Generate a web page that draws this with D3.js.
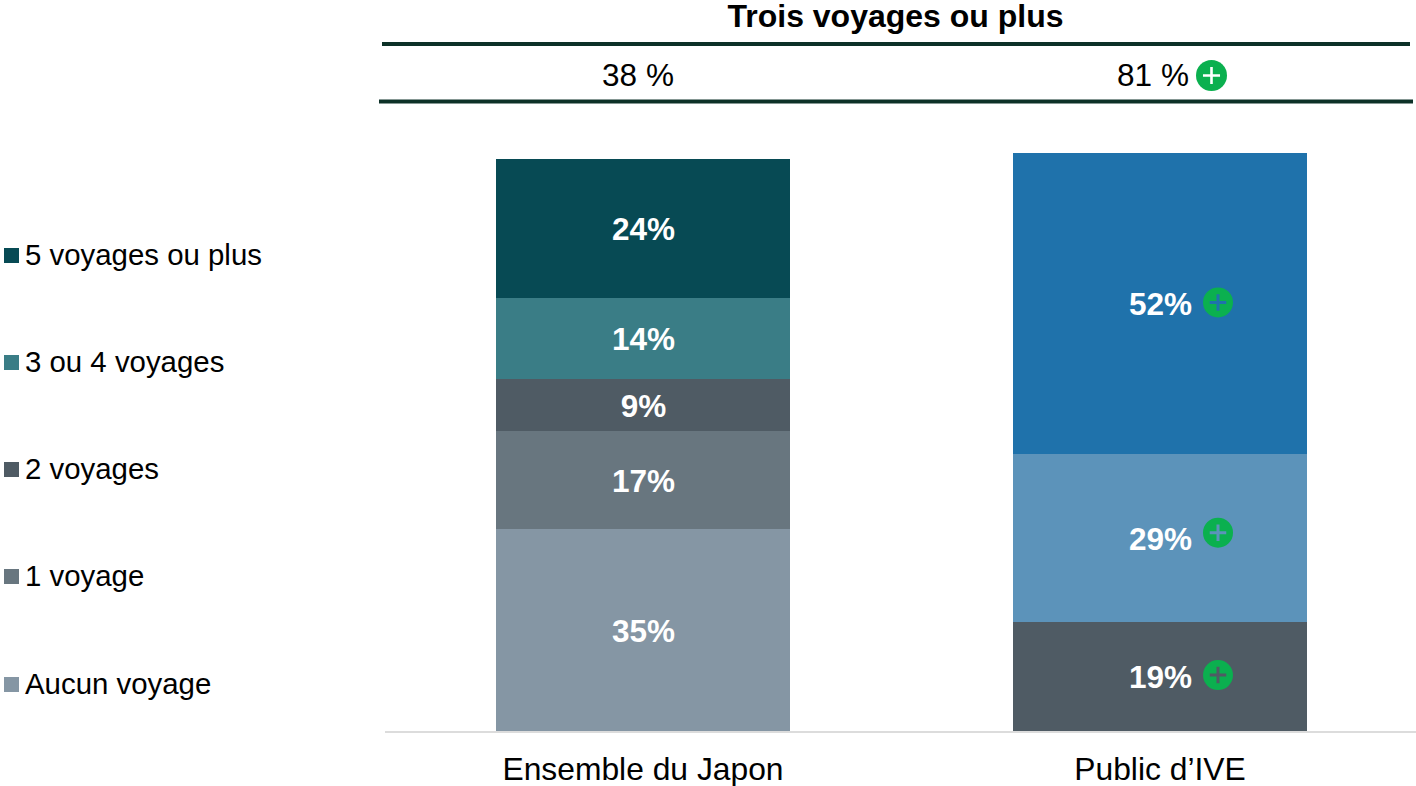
<!DOCTYPE html>
<html><head><meta charset="utf-8">
<script src="https://cdn.jsdelivr.net/npm/d3@7"></script>
<style>html,body{margin:0;padding:0;background:#fff}svg{display:block}text{font-family:"Liberation Sans",Arial,sans-serif}</style>
</head><body><svg id="c" width="1416" height="786"></svg>
<script>
const categories = ["Ensemble du Japon", "Public d’IVE"];
const legendLabels = ["5 voyages ou plus", "3 ou 4 voyages", "2 voyages", "1 voyage", "Aucun voyage"];
const legendColors = ["#074a54", "#3a7d86", "#4f5b64", "#68767f", "#8596a4"];
// stacked bottom to top
const japonValues = [35, 17, 9, 14, 24];
const japonColors = ["#8596a4", "#68767f", "#4f5b64", "#3a7d86", "#074a54"];
const iveValues = [19, 29, 52];
const iveColors = ["#4f5b64", "#5c93ba", "#1f72ab"];
const ivePlus = [true, true, true];
const headerTitle = "Trois voyages ou plus";
const headerValues = ["38 %", "81 %"];
const headerPlus = [false, true];

const svg = d3.select("#c");
const barX = d3.scaleOrdinal().domain(categories).range([496, 1013]);
const barW = 294;
const y = d3.scaleLinear().domain([0, 100]).range([731.5, 153]);

function plus(g, cx, cy, r, col, sw) {
  g.append("circle").attr("cx", cx).attr("cy", cy).attr("r", r).attr("fill", "#0bb04f");
  const a = r * 0.55;
  g.append("path").attr("d", `M${cx - a},${cy}H${cx + a}M${cx},${cy - a}V${cy + a}`)
    .attr("stroke", col).attr("stroke-width", sw).attr("fill", "none");
}

function stack(cat, values, colors) {
  const g = svg.append("g");
  let acc = 0;
  values.forEach((v, i) => {
    const y0 = Math.round(y(acc)), y1 = Math.round(y(acc + v));
    g.append("rect").attr("x", barX(cat)).attr("width", barW).attr("y", y1).attr("height", y0 - y1).attr("fill", colors[i]);
    acc += v;
  });
  return g;
}

const leftG = stack(categories[0], japonValues, japonColors);
const rightG = stack(categories[1], iveValues, iveColors);

// labels
let acc = 0;
japonValues.forEach((v, i) => {
  leftG.append("text").attr("x", barX(categories[0]) + barW / 2 + 0.5).attr("y", y(acc + v / 2) + (i === 2 ? 1.5 : 0.5)).attr("dy", "0.36em")
    .attr("text-anchor", "middle").attr("font-size", 31.5).attr("font-weight", "bold").attr("fill", "#fff").text(v + "%");
  acc += v;
});
acc = 0;
iveValues.forEach((v, i) => {
  const my = y(acc + v / 2);
  rightG.append("text").attr("x", 1160.5).attr("y", my + 0.5).attr("dy", "0.36em")
    .attr("text-anchor", "middle").attr("font-size", 31.5).attr("font-weight", "bold").attr("fill", "#fff").text(v + "%");
  if (ivePlus[i]) plus(rightG, 1218, my + [-1.5, -5, -1][i], 15, iveColors[i], 3);
  acc += v;
});

// baseline
svg.append("line").attr("x1", 385).attr("x2", 1416).attr("y1", 732).attr("y2", 732).attr("stroke", "#dcdcdc").attr("stroke-width", 2);

// category labels
categories.forEach(c => {
  svg.append("text").attr("x", barX(c) + barW / 2).attr("y", 780).attr("text-anchor", "middle")
    .attr("font-size", 31.8).attr("fill", "#000").text(c);
});

// header
svg.append("text").attr("x", 895.5).attr("y", 27).attr("text-anchor", "middle").attr("font-size", 32)
  .attr("font-weight", "bold").attr("fill", "#000").text(headerTitle);
svg.append("line").attr("x1", 382).attr("x2", 1410).attr("y1", 44).attr("y2", 44).attr("stroke", "#0d3128").attr("stroke-width", 4);
svg.append("line").attr("x1", 379).attr("x2", 1413).attr("y1", 101.5).attr("y2", 101.5).attr("stroke", "#0d3128").attr("stroke-width", 4);
const headerCx = [638, 1153];
headerValues.forEach((t, i) => {
  svg.append("text").attr("x", headerCx[i]).attr("y", 86).attr("text-anchor", "middle").attr("font-size", 31.5).attr("fill", "#000").text(t);
  if (headerPlus[i]) plus(svg, 1211.5, 75.5, 15.5, "#fff", 2.6);
});

// legend
const legendY = d3.scalePoint().domain(legendLabels).range([255.5, 684]);
legendLabels.forEach((l, i) => {
  const cy = legendY(l);
  svg.append("rect").attr("x", 4).attr("y", Math.round(cy - 7.5)).attr("width", 15).attr("height", 15).attr("fill", legendColors[i]);
  svg.append("text").attr("x", 25).attr("y", cy + 9.5).attr("font-size", 29.4).attr("fill", "#000").text(l);
});
</script></body></html>
